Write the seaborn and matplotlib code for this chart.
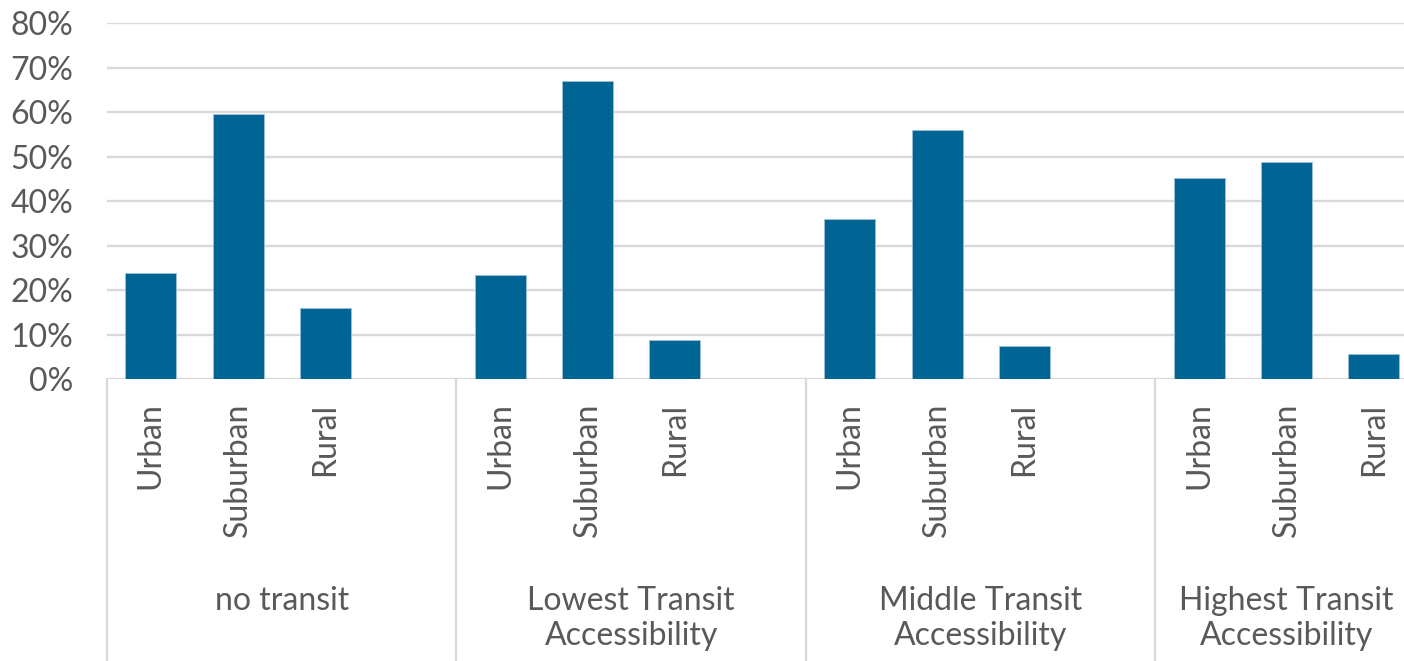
import matplotlib
matplotlib.use("Agg")
import matplotlib.pyplot as plt
from matplotlib.ticker import PercentFormatter
import seaborn as sns
import pandas as pd

# ---- data ----
groups = ["no transit", "Lowest Transit\nAccessibility",
          "Middle Transit\nAccessibility", "Highest Transit\nAccessibility"]
areas = ["Urban", "Suburban", "Rural"]
no_transit = [0.239, 0.595, 0.159]
lowest_access = [0.235, 0.671, 0.088]
middle_access = [0.359, 0.559, 0.074]
highest_access = [0.452, 0.488, 0.057]
y_ticks = [0.0, 0.1, 0.2, 0.3, 0.4, 0.5, 0.6, 0.7, 0.8]

BAR = "#006494"
GRID = "#D9D9D9"
TXT = "#595959"
FS = 23

sns.set_theme(style="white")
plt.rcParams["font.family"] = ["Lato", "DejaVu Sans"]

series = [no_transit, lowest_access, middle_access, highest_access]
rows, order, ticklabels, group_pos = [], [], [], []
for gi, (g, vals) in enumerate(zip(groups, series)):
    pos = []
    for a, v in zip(areas, vals):
        key = f"{gi}|{a}"
        rows.append({"key": key, "share": v})
        pos.append(len(order))
        order.append(key)
        ticklabels.append(a)
    group_pos.append(pos)
    if gi < len(groups) - 1:  # blank spacer slot after each group
        order.append(f"{gi}|gap")
        ticklabels.append("")
df = pd.DataFrame(rows)

fig = plt.figure(figsize=(14.04, 6.61), dpi=100)
W, H = 1404, 661
left, right, top, bottom = 107, 1417.6, 23.3, 379
ax = fig.add_axes([left / W, (H - bottom) / H, (right - left) / W, (bottom - top) / H])

sns.barplot(data=df, x="key", y="share", order=order, color=BAR, saturation=1,
            width=0.584, edgecolor="#9fc0d6", linewidth=0.6, errorbar=None, ax=ax)

ax.set_xlim(-0.5, len(order) - 0.5)
ax.set_ylim(0, 0.8)
ax.set_xlabel("")
ax.set_ylabel("")
ax.set_yticks(y_ticks)
ax.yaxis.set_major_formatter(PercentFormatter(1.0, decimals=0))
ax.set_xticks(range(len(order)))
ax.set_xticklabels(ticklabels, rotation=90, ha="center", va="top")
ax.tick_params(axis="x", length=0, pad=17, labelsize=FS, labelcolor=TXT)
ax.tick_params(axis="y", length=0, pad=24.5, labelsize=FS, labelcolor=TXT)

ax.set_axisbelow(True)
ax.yaxis.grid(True, color=GRID, lw=1.7)
ax.xaxis.grid(False)
for s in ax.spines.values():
    s.set_visible(False)

# group dividers in the category axis
xt = ax.get_xaxis_transform()
bounds = [-0.5] + [p[-1] + 1.5 for p in group_pos[:-1]]
for b in bounds:
    ax.plot([b, b], [0, -1.0], transform=xt, color=GRID, lw=1.7, clip_on=False)

# group labels (centred on their slots; last group has no spacer slot)
for gi, (g, pos) in enumerate(zip(groups, group_pos)):
    span_end = pos[-1] + (1 if gi < len(groups) - 1 else 0)
    cx = (pos[0] + span_end) / 2
    ax.annotate(g, xy=(cx, 0), xycoords=xt, xytext=(0, -207), textcoords="offset pixels",
                ha="center", va="top", fontsize=FS, color=TXT, linespacing=1.22,
                annotation_clip=False)

fig.savefig("out.png", dpi=100, facecolor="white")
